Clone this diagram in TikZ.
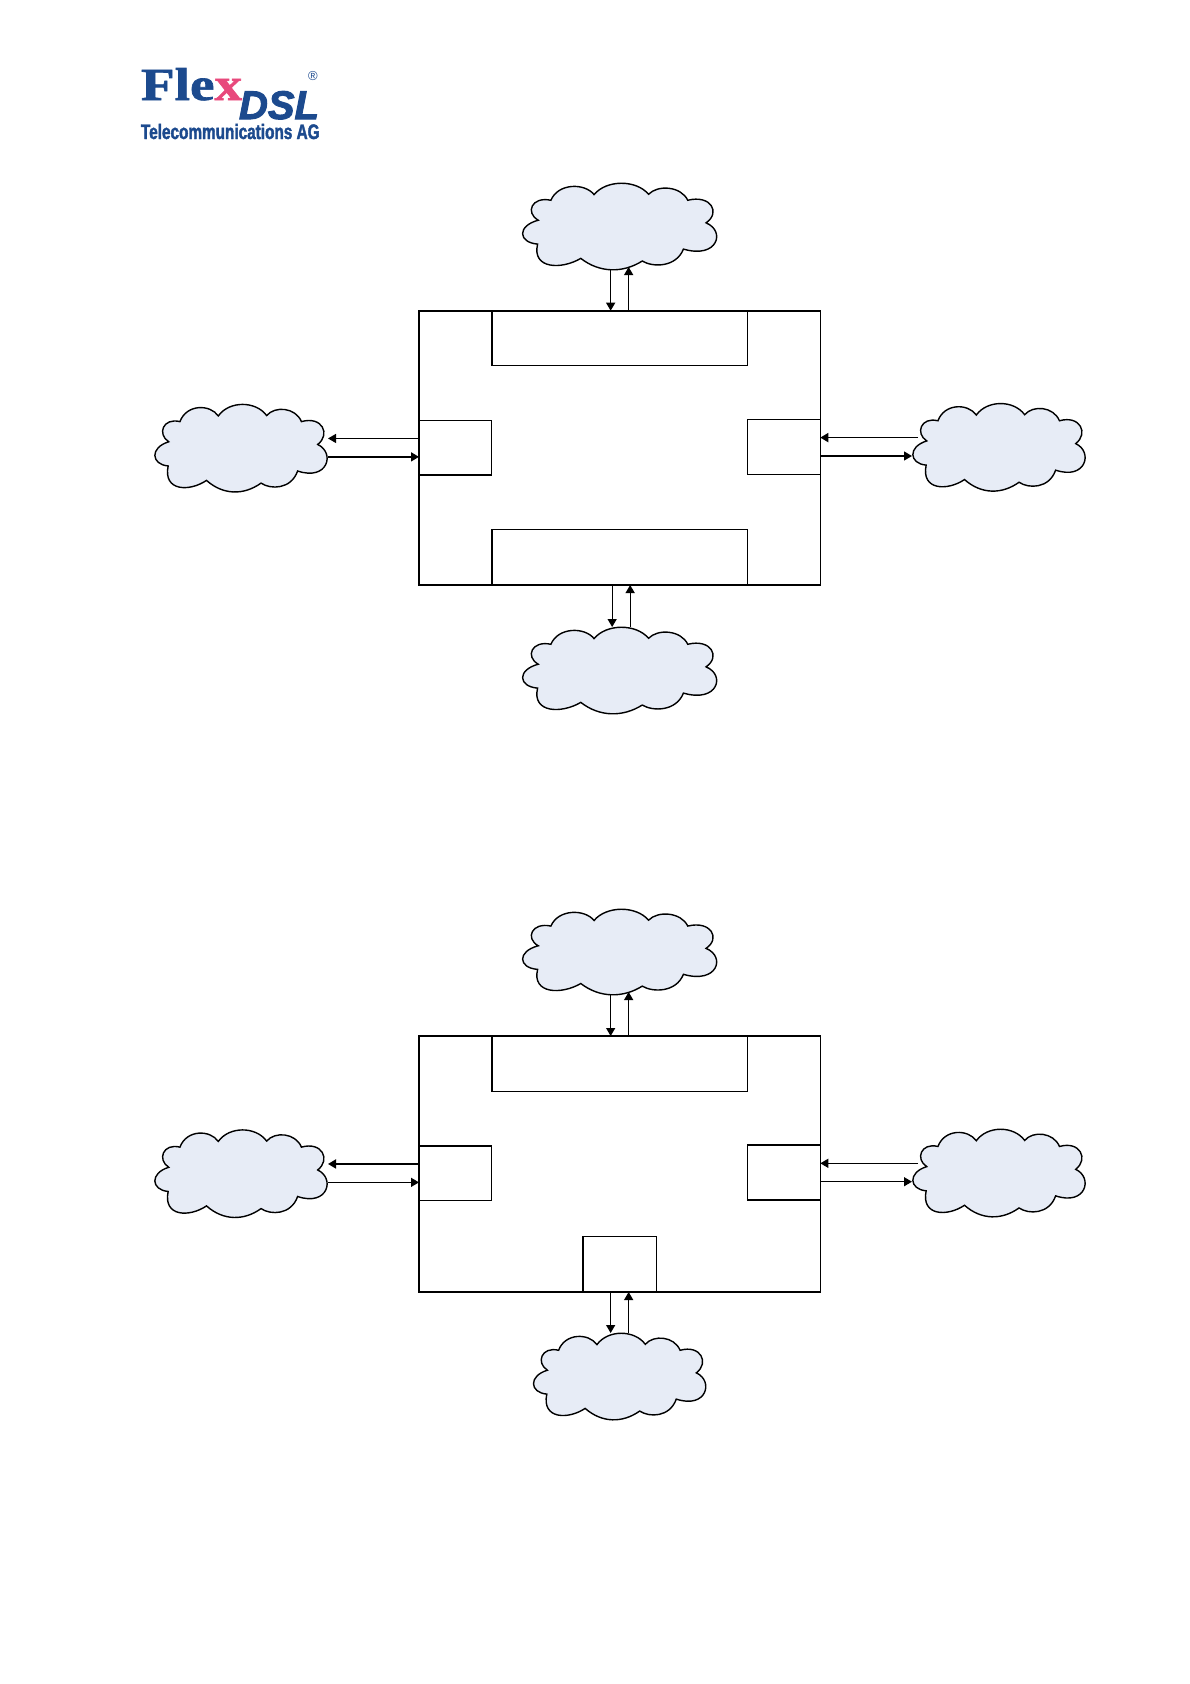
\documentclass[tikz,border=0pt]{standalone}
\usepackage{fontspec}
\usepackage{xcolor}
\usetikzlibrary{arrows.meta, positioning}
\setmainfont{Liberation Sans}
\newfontfamily\flexfont[FakeStretch=1.2,FakeBold=1.5]{Liberation Serif Bold}
\newfontfamily\dslfont[FakeBold=2.5]{Liberation Sans Bold Italic}
\newfontfamily\agfont[FakeStretch=0.73,FakeBold=1.8]{Liberation Sans Bold}
\definecolor{logoblue}{HTML}{1C4A8E}
\definecolor{logopink}{HTML}{E8497C}
\definecolor{cloudfill}{HTML}{E7ECF6}

\begin{document}
\begin{tikzpicture}[
    x=1pt, y=-1pt,
    unitbox/.style={rectangle, draw=black, line width=1.6pt, inner sep=0pt, outer sep=0pt, minimum width=401.3pt},
    portbox/.style={rectangle, draw=black, line width=1.4pt, inner sep=0pt, outer sep=0pt},
    netcloud/.style 2 args={rectangle, inner sep=0pt, outer sep=-2pt, minimum width=#1+4pt, minimum height=#2+4pt,
        path picture={\draw[line width=1.4pt, fill=cloudfill, x=#1/5.9, y=#2/2.59, shift=(path picture bounding box.center)]
            (-2.45,.175) .. controls (-2.85,.4) and (-2.65,.9) .. (-2.07,.775)
            .. controls (-1.85,1.3) and (-1.05,1.3) .. (-.77,.945)
            .. controls (-.4,1.4) and (.5,1.4) .. (.87,.955)
            .. controls (1.15,1.25) and (1.85,1.2) .. (2.05,.775)
            .. controls (2.75,.95) and (3.05,.4) .. (2.6,.095)
            .. controls (3.2,-.15) and (2.95,-1.0) .. (1.92,-.695)
            .. controls (1.7,-1.25) and (1.0,-1.25) .. (.68,-1.055)
            .. controls (.1,-1.42) and (-.6,-1.42) .. (-1.17,-.975)
            .. controls (-1.75,-1.32) and (-2.65,-1.3) .. (-2.47,-.545)
            .. controls (-3.05,-.5) and (-3.1,.0) .. cycle;}},
    arrow/.style={-{Triangle[length=8pt, width=9pt]}, line width=1.3pt, draw=black},
    logotext/.style={anchor=base west, inner sep=0pt, outer sep=0pt}
]
\path[use as bounding box] (0,0) rectangle (1190,1684);

% logo
\node (logoflex) [logotext, text=logoblue, font=\flexfont\fontsize{46}{46}\selectfont] at (141,100) {Fle\textcolor{logopink}{x}};
\node (logodsl) [logotext, text=logoblue, font=\dslfont\fontsize{40}{40}\selectfont] at (239,119) {DSL};
\node (logoag) [logotext, text=logoblue, font=\agfont\fontsize{21}{21}\selectfont] at (141,139) {Telecommunications AG};
\node (logoreg) [logotext, text=logoblue, font=\fontsize{13}{13}\selectfont] at (308,80) {®};

% upper unit
\node (unita) [unitbox, minimum height=274.3pt] at (619.65,447.85) {};
\node (topporta) [portbox, anchor=north, minimum width=255.6pt, minimum height=54.6pt] at (unita.north) {};
\node (botporta) [portbox, anchor=south, minimum width=255.6pt, minimum height=55.3pt] at (unita.south) {};
\node (leftporta) [portbox, minimum width=72.7pt, minimum height=54.7pt] at (455.35,447.65) {};
\node (rightporta) [portbox, minimum width=73pt, minimum height=55pt] at (783.8,446.8) {};
\node (topclouda) [netcloud={196pt}{86pt}] at (619.65,226) {};
\node (leftclouda) [netcloud={174pt}{87pt}] at (241,447.65) {};
\node (rightclouda) [netcloud={174pt}{87pt}] at (999,446.8) {};
\node (botclouda) [netcloud={196pt}{86pt}] at (619.65,670) {};
\draw [arrow] ([xshift=-9pt]topclouda.south) -- ([xshift=-9pt]topporta.north);
\draw [arrow] ([xshift=9pt]topporta.north) -- ([xshift=9pt, yshift=2pt]topclouda.south);
\draw [arrow] ([yshift=9.2pt]leftporta.west) -- ([yshift=9.2pt]leftclouda.east);
\draw [arrow, line width=1.7pt] ([yshift=-9.2pt]leftclouda.east) -- ([yshift=-9.2pt]leftporta.west);
\draw [arrow, line width=1.7pt] ([xshift=6pt, yshift=9.2pt]rightclouda.west) -- ([yshift=9.2pt]rightporta.east);
\draw [arrow] ([yshift=-9.2pt]rightporta.east) -- ([yshift=-9.2pt]rightclouda.west);
\draw [arrow] ([xshift=-7.5pt]botporta.south) -- ([xshift=-7.5pt]botclouda.north);
\draw [arrow] ([xshift=10.5pt]botclouda.north) -- ([xshift=10.5pt]botporta.south);

% lower unit
\node (unitb) [unitbox, minimum height=256pt] at (619.65,1164) {};
\node (topportb) [portbox, anchor=north, minimum width=255.6pt, minimum height=55.3pt] at (unitb.north) {};
\node (botportb) [portbox, anchor=south, minimum width=73.4pt, minimum height=55.3pt] at (unitb.south) {};
\node (leftportb) [portbox, minimum width=72.7pt, minimum height=54.3pt] at (455.35,1173.15) {};
\node (rightportb) [portbox, minimum width=73pt, minimum height=55pt] at (783.8,1172.5) {};
\node (topcloudb) [netcloud={196pt}{85pt}] at (619.65,951.5) {};
\node (leftcloudb) [netcloud={174pt}{87pt}] at (241,1173.15) {};
\node (rightcloudb) [netcloud={174pt}{87pt}] at (999,1172.5) {};
\node (botcloudb) [netcloud={174pt}{86pt}] at (619.65,1376) {};
\draw [arrow] ([xshift=-9pt]topcloudb.south) -- ([xshift=-9pt]topportb.north);
\draw [arrow] ([xshift=9pt]topportb.north) -- ([xshift=9pt, yshift=2pt]topcloudb.south);
\draw [arrow, line width=1.7pt] ([yshift=9.2pt]leftportb.west) -- ([yshift=9.2pt]leftcloudb.east);
\draw [arrow] ([yshift=-9.2pt]leftcloudb.east) -- ([yshift=-9.2pt]leftportb.west);
\draw [arrow] ([xshift=6pt, yshift=9.2pt]rightcloudb.west) -- ([yshift=9.2pt]rightportb.east);
\draw [arrow] ([yshift=-9.2pt]rightportb.east) -- ([yshift=-9.2pt]rightcloudb.west);
\draw [arrow] ([xshift=-9pt]botportb.south) -- ([xshift=-9pt]botcloudb.north);
\draw [arrow] ([xshift=9pt]botcloudb.north) -- ([xshift=9pt]botportb.south);
\end{tikzpicture}
\end{document}
